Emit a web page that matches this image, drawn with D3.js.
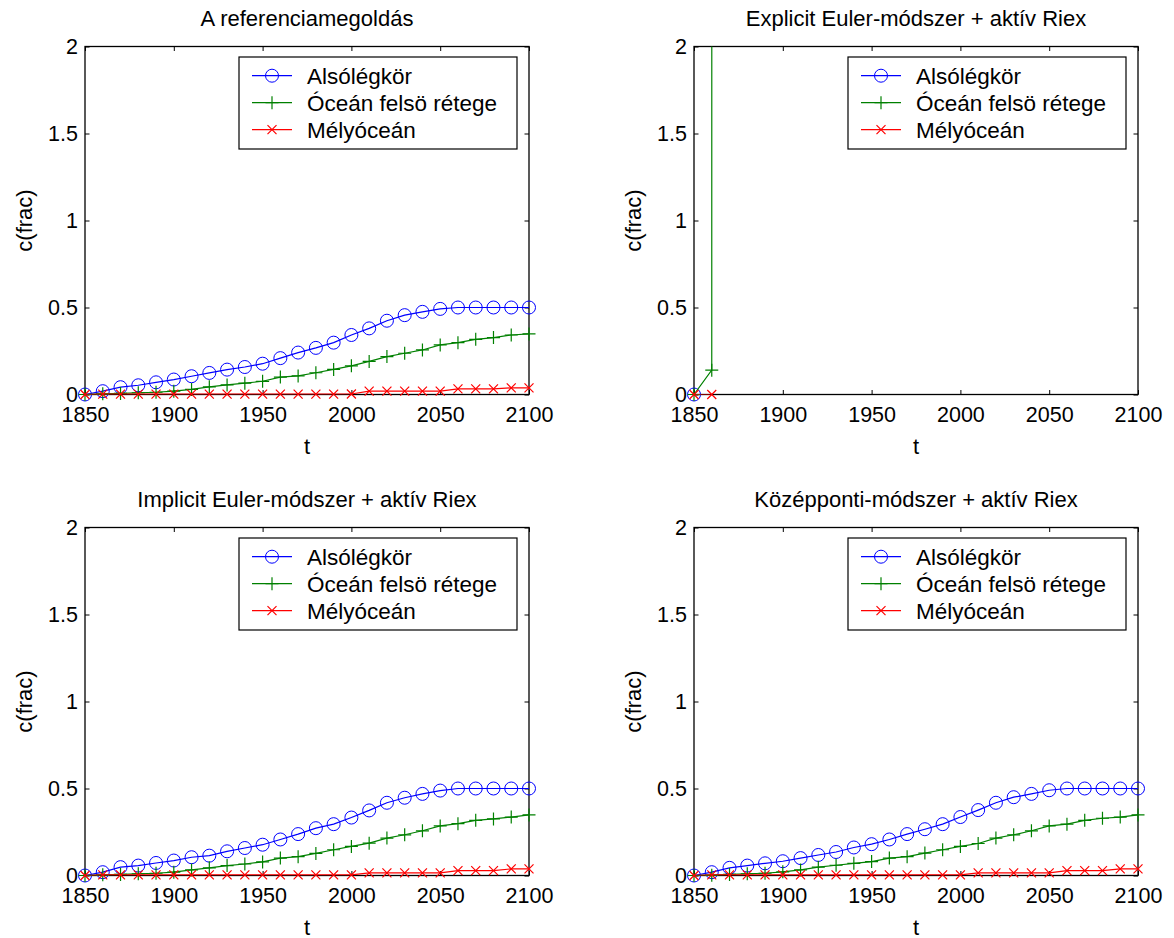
<!DOCTYPE html>
<html>
<head>
<meta charset="utf-8">
<script src="https://cdn.jsdelivr.net/npm/d3@7"></script>
<style>
  html, body { margin: 0; padding: 0; background: #fff; }
  svg { display: block; font-family: "Liberation Sans", Arial, Helvetica, sans-serif; }
</style>
</head>
<body>
<svg id="fig" width="1174" height="938"></svg>
<script>
// Time grid (years) shared by the stable solutions
const years = [1850, 1860, 1870, 1880, 1890, 1900, 1910, 1920, 1930, 1940, 1950, 1960, 1970,
               1980, 1990, 2000, 2010, 2020, 2030, 2040, 2050, 2060, 2070, 2080, 2090, 2100];

// Reference solution
const refAtm   = [0, 0.019, 0.042, 0.053, 0.070, 0.086, 0.105, 0.124, 0.143, 0.158, 0.177, 0.209, 0.241,
                  0.268, 0.298, 0.342, 0.380, 0.424, 0.456, 0.475, 0.492, 0.500, 0.500, 0.500, 0.500, 0.500];
const refOcean = [0, 0.004, 0.006, 0.010, 0.013, 0.019, 0.029, 0.044, 0.055, 0.065, 0.076, 0.100, 0.107,
                  0.125, 0.144, 0.165, 0.190, 0.218, 0.237, 0.256, 0.285, 0.298, 0.317, 0.327, 0.342, 0.348];
const refDeep  = [0, 0.002, 0.002, 0.002, 0.002, 0.002, 0.002, 0.002, 0.002, 0.002, 0.002, 0.002, 0.002,
                  0.002, 0.002, 0.003, 0.019, 0.019, 0.019, 0.019, 0.019, 0.032, 0.032, 0.032, 0.038, 0.038];

// Explicit Euler: blows up after the first steps
const explYears = [1850, 1860, 1870];
const explAtm   = [0, -1000];
const explOcean = [0, 0.14, 1000];
const explDeep  = [0, 0, -1000];

// Implicit Euler
const implAtm   = [0, 0.019, 0.048, 0.057, 0.072, 0.086, 0.105, 0.114, 0.139, 0.158, 0.177, 0.207, 0.238,
                   0.272, 0.295, 0.333, 0.374, 0.418, 0.447, 0.469, 0.488, 0.500, 0.500, 0.500, 0.500, 0.500];
const implOcean = [0, 0.004, 0.006, 0.010, 0.013, 0.019, 0.032, 0.044, 0.057, 0.066, 0.078, 0.100, 0.108,
                   0.127, 0.148, 0.167, 0.186, 0.215, 0.234, 0.257, 0.285, 0.298, 0.317, 0.325, 0.336, 0.348];
const implDeep  = [0, 0.004, 0.004, 0.004, 0.004, 0.004, 0.004, 0.004, 0.004, 0.004, 0.004, 0.004, 0.004,
                   0.004, 0.004, 0.004, 0.015, 0.015, 0.015, 0.015, 0.015, 0.028, 0.028, 0.028, 0.038, 0.038];

// Midpoint method
const midAtm   = [0, 0.019, 0.044, 0.057, 0.070, 0.082, 0.100, 0.118, 0.135, 0.161, 0.180, 0.207, 0.238,
                  0.266, 0.295, 0.336, 0.376, 0.418, 0.450, 0.469, 0.490, 0.500, 0.500, 0.500, 0.500, 0.500];
const midOcean = [0, 0.002, 0.006, 0.010, 0.013, 0.021, 0.032, 0.048, 0.059, 0.070, 0.080, 0.100, 0.108,
                  0.129, 0.148, 0.167, 0.184, 0.215, 0.234, 0.257, 0.285, 0.295, 0.317, 0.329, 0.336, 0.348];
const midDeep  = [0, 0.004, 0.004, 0.004, 0.004, 0.004, 0.004, 0.004, 0.004, 0.004, 0.004, 0.004, 0.004,
                  0.004, 0.004, 0.004, 0.015, 0.015, 0.015, 0.015, 0.015, 0.028, 0.028, 0.028, 0.038, 0.038];

const seriesNames = ["Alsólégkör", "Óceán felsö rétege", "Mélyóceán"];
const xTicks = [1850, 1900, 1950, 2000, 2050, 2100];
const yTicks = [0, 0.5, 1, 1.5, 2];
const yTickLabels = ["0", "0.5", "1", "1.5", "2"];
const titles = ["A referenciamegoldás", "Explicit Euler-módszer + aktív Riex",
                "Implicit Euler-módszer + aktív Riex", "Középponti-módszer + aktív Riex"];
const xLabel = "t";
const yLabel = "c(frac)";

const panels = [
  { title: titles[0], t: years, series: [refAtm, refOcean, refDeep], x: 85, y: 46.5 },
  { title: titles[1], t: explYears, series: [explAtm, explOcean, explDeep], x: 694, y: 46.5 },
  { title: titles[2], t: years, series: [implAtm, implOcean, implDeep], x: 85, y: 527.5 },
  { title: titles[3], t: years, series: [midAtm, midOcean, midDeep], x: 694, y: 527.5 }
];

const W = 444, H = 348;
const styles = [
  { color: "#0000ff", marker: "circle" },
  { color: "#008000", marker: "plus" },
  { color: "#ff0000", marker: "cross" }
];

const svg = d3.select("#fig");

function drawMarker(g, kind, cx, cy, color) {
  if (kind === "circle") {
    g.append("circle").attr("cx", cx).attr("cy", cy).attr("r", 6.5)
      .attr("fill", "none").attr("stroke", color).attr("stroke-width", 1);
  } else if (kind === "plus") {
    const s = 6.5;
    g.append("path").attr("d", `M${cx - s},${cy}H${cx + s}M${cx},${cy - s}V${cy + s}`)
      .attr("stroke", color).attr("stroke-width", 1.2).attr("fill", "none");
  } else {
    const s = 4.5;
    g.append("path").attr("d", `M${cx - s},${cy - s}L${cx + s},${cy + s}M${cx - s},${cy + s}L${cx + s},${cy - s}`)
      .attr("stroke", color).attr("stroke-width", 1.2).attr("fill", "none");
  }
}

panels.forEach((p, i) => {
  const x = d3.scaleLinear().domain([1850, 2100]).range([0, W]);
  const y = d3.scaleLinear().domain([0, 2]).range([H, 0]);
  const g = svg.append("g").attr("transform", `translate(${p.x},${p.y})`);

  const clipId = "clip" + i;
  g.append("clipPath").attr("id", clipId)
    .append("rect").attr("x", 0).attr("y", 0).attr("width", W).attr("height", H);

  // Title
  g.append("text").attr("x", W / 2).attr("y", -20.5).attr("text-anchor", "middle")
    .attr("font-size", 22).attr("fill", "#000").text(p.title);

  // Axes: ticks inside, mirrored on top and right
  const tickLen = 4.5;
  const xAxisB = d3.axisBottom(x).tickValues(xTicks).tickFormat(d3.format("d"))
    .tickSizeInner(-tickLen).tickSizeOuter(0).tickPadding(12);
  const xAxisT = d3.axisTop(x).tickValues(xTicks).tickFormat("").tickSizeInner(-tickLen).tickSizeOuter(0);
  const yAxisL = d3.axisLeft(y).tickValues(yTicks).tickFormat((d, k) => yTickLabels[k])
    .tickSizeInner(-tickLen).tickSizeOuter(0).tickPadding(7);
  const yAxisR = d3.axisRight(y).tickValues(yTicks).tickFormat("").tickSizeInner(-tickLen).tickSizeOuter(0);

  const axes = [
    g.append("g").attr("transform", `translate(0,${H})`).call(xAxisB),
    g.append("g").call(xAxisT),
    g.append("g").call(yAxisL),
    g.append("g").attr("transform", `translate(${W},0)`).call(yAxisR)
  ];
  axes.forEach(a => {
    a.select(".domain").remove();
    a.selectAll(".tick line").attr("stroke", "#000").attr("stroke-width", 1);
    a.selectAll(".tick text").attr("font-size", 21.5).attr("fill", "#000")
      .attr("font-family", "'Liberation Sans', Arial, sans-serif");
  });

  // Frame
  g.append("rect").attr("x", 0).attr("y", 0).attr("width", W).attr("height", H)
    .attr("fill", "none").attr("stroke", "#000").attr("stroke-width", 1.3);

  // Axis labels
  g.append("text").attr("x", W / 2).attr("y", H + 59).attr("text-anchor", "middle")
    .attr("font-size", 22).attr("fill", "#000").text(xLabel);
  g.append("text").attr("transform", `translate(${-53},${H / 2}) rotate(-90)`)
    .attr("text-anchor", "middle").attr("font-size", 22).attr("fill", "#000").text(yLabel);

  // Series
  p.series.forEach((vals, s) => {
    const pts = vals.map((v, k) => [p.t[k], v]);
    const line = d3.line().x(d => x(d[0])).y(d => y(d[1]));
    g.append("path").attr("d", line(pts)).attr("clip-path", `url(#${clipId})`)
      .attr("fill", "none").attr("stroke", styles[s].color).attr("stroke-width", 1.2);
    const mg = g.append("g");
    pts.filter(d => d[1] >= 0 && d[1] <= 2 && d[0] >= 1850 && d[0] <= 2100)
      .forEach(d => drawMarker(mg, styles[s].marker, x(d[0]), y(d[1]), styles[s].color));
  });

  // Legend
  const lw = 278, lh = 92;
  const lg = g.append("g").attr("transform", `translate(${W - 12 - lw},${10.5})`);
  lg.append("rect").attr("width", lw).attr("height", lh)
    .attr("fill", "#fff").attr("stroke", "#000").attr("stroke-width", 1.2);
  seriesNames.forEach((name, s) => {
    const ry = 18.7 + s * 27;
    lg.append("line").attr("x1", 13).attr("x2", 53).attr("y1", ry).attr("y2", ry)
      .attr("stroke", styles[s].color).attr("stroke-width", 1.2);
    drawMarker(lg, styles[s].marker, 33, ry, styles[s].color);
    lg.append("text").attr("x", 68).attr("y", ry).attr("dy", "0.36em")
      .attr("font-size", 22.5).attr("fill", "#000").text(name);
  });
});
</script>
</body>
</html>
